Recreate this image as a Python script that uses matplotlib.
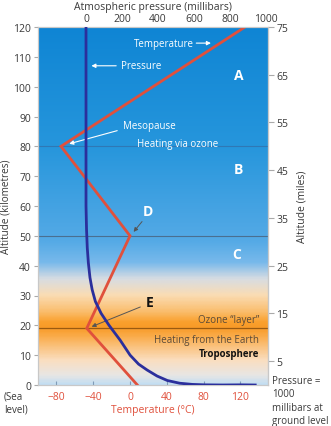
import numpy as np
import matplotlib
matplotlib.use("Agg")
import matplotlib.pyplot as plt
from matplotlib.colors import LinearSegmentedColormap

plt.rcParams['font.family'] = ['Open Sans', 'DejaVu Sans']

# temperature profile (deg C) against altitude (km)
temp_alt = [0, 19, 50, 80, 120]
temp_val = [8, -47, 0, -75, 125]

# pressure profile (millibars) against altitude (km)
pres_alt = [120, 60, 52, 46, 41, 36, 32, 28, 24, 20, 15, 10, 7, 5, 3, 1.5, 0.6, 0.2, 0.05, 0.0, 0.05, 0.0]
pres_val = [0, 0, 3, 7, 13, 22, 34, 52, 84, 128, 190, 245, 292, 340, 395, 452, 520, 590, 660, 760, 860, 940]

temp_ticks = [-80, -40, 0, 40, 80, 120]
pres_ticks = [0, 200, 400, 600, 800, 1000]
km_ticks = list(range(0, 121, 10))
mile_ticks = [5, 15, 25, 35, 45, 55, 65, 75]
layer_lines = [80, 50, 19]

# background colour stops (altitude km, rgb)
bg_stops = [(0, (195, 222, 242)), (3, (232, 230, 228)), (8, (250, 222, 192)),
            (12, (250, 198, 135)), (16, (250, 172, 75)), (19, (248, 155, 40)),
            (21, (250, 160, 45)), (24.5, (250, 190, 110)), (30, (250, 220, 180)),
            (35.5, (215, 220, 226)), (41, (120, 185, 235)), (48, (85, 170, 230)),
            (80, (38, 150, 220)), (120, (15, 133, 212))]

RED = '#e0503c'
BLUE = '#2b2f9c'
GREY = '#3a3a3a'

fig = plt.figure(figsize=(3.31, 4.27), dpi=100)
ax = fig.add_axes([38/331, 1-386/427, 230/331, 358/427])
ax.set_xlim(-100, 150)
ax.set_ylim(0, 120)

cmap = LinearSegmentedColormap.from_list(
    'atm', [(a/120, tuple(c/255 for c in col)) for a, col in bg_stops])
grad = np.linspace(0, 1, 600).reshape(-1, 1)
ax.imshow(grad, cmap=cmap, origin='lower', aspect='auto',
          extent=[-100, 150, 0, 120], zorder=0)

ax.axhline(layer_lines[0], color='#2f78b5', lw=0.8, zorder=1)
ax.axhline(layer_lines[1], color='#4a6f90', lw=0.8, zorder=1)
ax.axhline(layer_lines[2], color='#9a5a10', lw=0.9, zorder=1)

ax.plot(temp_val, temp_alt, color=RED, lw=2, zorder=4, solid_joinstyle='miter')

# pressure on top axis
axp = ax.twiny()
axp.set_xlim(-266.7, 1011)
axp.plot(pres_val, pres_alt, color=BLUE, lw=2, zorder=3)
axp.set_xticks(pres_ticks)
axp.tick_params(axis='x', length=0, pad=2, labelsize=7.5, labelcolor=GREY)
axp.set_xlabel('Atmospheric pressure (millibars)', fontsize=7.5, color=GREY, labelpad=3)

ax.set_xticks(temp_ticks)
ax.set_xticklabels(['\u221280', '\u221240', '0', '40', '80', '120'])
ax.tick_params(axis='x', direction='in', length=3, color='#7f9bb8',
               labelsize=7.5, labelcolor=RED, pad=4)
ax.set_xlabel('Temperature (\u00b0C)', fontsize=7.5, color=RED, labelpad=2)

ax.set_yticks(km_ticks)
ax.tick_params(axis='y', direction='out', length=3, color='#aaaaaa',
               labelsize=7.5, labelcolor=GREY, pad=2)
ax.set_ylabel('Altitude (kilometres)', fontsize=7.2, color=GREY, labelpad=1)

axm = ax.secondary_yaxis('right', functions=(lambda k: k/1.6, lambda m: m*1.6))
axm.set_yticks(mile_ticks)
axm.tick_params(axis='y', direction='out', length=4, color='#aaaaaa',
                labelsize=7.5, labelcolor=GREY, pad=2)
axm.set_ylabel('Altitude (miles)', fontsize=7.5, color=GREY, labelpad=6)

for a in (ax, axp):
    for s in a.spines.values():
        s.set_color('#c8c8c8')
        s.set_linewidth(0.8)
axm.spines['right'].set_color('#c8c8c8')

# annotations
white_arrow = dict(arrowstyle='-|>', color='white', lw=0.8, mutation_scale=6)
grey_arrow = dict(arrowstyle='-|>', color='#555555', lw=0.7, mutation_scale=6)

ax.text(37, 114.6, 'Temperature', color='white', fontsize=7, ha='center', va='center', zorder=5)
ax.annotate('', xy=(91, 114.6), xytext=(69, 114.6), arrowprops=white_arrow, zorder=5)
ax.text(-10, 107, 'Pressure', color='white', fontsize=7, ha='left', va='center', zorder=5)
ax.annotate('', xy=(-45, 107), xytext=(-12, 107), arrowprops=white_arrow, zorder=5)
ax.text(118, 104, 'A', color='white', fontsize=10, fontweight='bold', ha='center', va='center')
ax.text(-8, 87, 'Mesopause', color='white', fontsize=7, ha='left', va='center', zorder=5)
ax.annotate('', xy=(-69, 80.6), xytext=(-11, 85.5), arrowprops=white_arrow, zorder=5)
ax.text(52, 80.8, 'Heating via ozone', color='white', fontsize=7, ha='center', va='center', zorder=5)
ax.text(118, 72.4, 'B', color='white', fontsize=10, fontweight='bold', ha='center', va='center')
ax.text(19.5, 58.3, 'D', color='white', fontsize=10, fontweight='bold', ha='center', va='center')
ax.annotate('', xy=(2, 50.6), xytext=(15, 55.5), arrowprops=grey_arrow, zorder=5)
ax.text(116, 43.9, 'C', color='white', fontsize=10, fontweight='bold', ha='center', va='center')
ax.text(21.5, 27.8, 'E', color='#111111', fontsize=10, fontweight='bold', ha='center', va='center')
ax.annotate('', xy=(-44.5, 19.2), xytext=(14, 26.5), arrowprops=grey_arrow, zorder=5)
ax.text(140, 21.8, 'Ozone \u201clayer\u201d', color='#5a4a38', fontsize=7, ha='right', va='center')
ax.text(140, 15.4, 'Heating from the Earth', color='#5a4a38', fontsize=7, ha='right', va='center')
ax.text(140, 10.4, 'Troposphere', color='#111111', fontsize=7, fontweight='bold', ha='right', va='center')

fig.text(4/331, 1-392/427, '(Sea\nlevel)', fontsize=7, color=GREY, ha='left', va='top', linespacing=1.15)
fig.text(272/331, 1-376/427, 'Pressure =\n1000\nmillibars at\nground level', fontsize=7,
         color=GREY, ha='left', va='top', linespacing=1.3)

fig.savefig('out.png', dpi=100)
